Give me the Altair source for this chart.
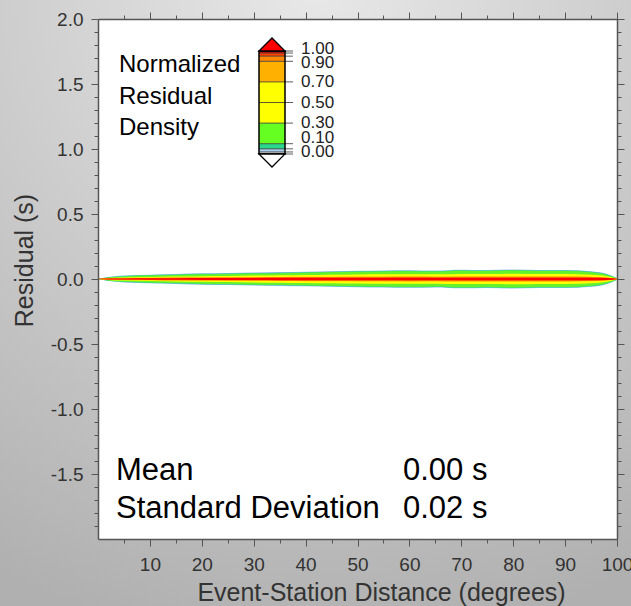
import altair as alt
import pandas as pd

# ---------------- data ----------------
DIST = [0, 2, 5, 10, 15, 20, 25, 30, 35, 40, 45, 50, 55, 60, 65, 70, 75, 80, 85, 90, 95, 98, 100]
# half-widths (s) of each density contour band around the zero residual line
OUTER = [0.000, 0.015, 0.026, 0.033, 0.038, 0.044, 0.047, 0.050, 0.053, 0.056, 0.060, 0.063, 0.066, 0.068, 0.066, 0.072, 0.069, 0.074, 0.070, 0.070, 0.060, 0.040, 0.006]
TEAL = [0.000, 0.013, 0.023, 0.030, 0.035, 0.040, 0.043, 0.046, 0.049, 0.052, 0.056, 0.059, 0.062, 0.064, 0.062, 0.068, 0.065, 0.070, 0.066, 0.066, 0.056, 0.036, 0.005]
GREEN = [0.000, 0.011, 0.020, 0.027, 0.031, 0.036, 0.039, 0.042, 0.045, 0.048, 0.052, 0.055, 0.058, 0.060, 0.058, 0.064, 0.061, 0.066, 0.062, 0.062, 0.052, 0.033, 0.004]
YELLOW = [0.000, 0.007, 0.012, 0.016, 0.019, 0.022, 0.024, 0.026, 0.028, 0.030, 0.032, 0.034, 0.036, 0.037, 0.036, 0.039, 0.038, 0.040, 0.038, 0.038, 0.032, 0.021, 0.003]
ORANGE = [0.000, 0.004, 0.007, 0.009, 0.011, 0.013, 0.014, 0.015, 0.016, 0.017, 0.018, 0.019, 0.020, 0.021, 0.020, 0.022, 0.021, 0.022, 0.021, 0.021, 0.018, 0.012, 0.002]
DARK_ORANGE = [0.000, 0.003, 0.005, 0.007, 0.009, 0.010, 0.011, 0.012, 0.012, 0.013, 0.013, 0.014, 0.014, 0.015, 0.014, 0.015, 0.015, 0.015, 0.015, 0.015, 0.013, 0.009, 0.002]
RED = [0.002, 0.003, 0.004, 0.005, 0.006, 0.007, 0.008, 0.008, 0.009, 0.009, 0.009, 0.010, 0.010, 0.010, 0.010, 0.010, 0.010, 0.010, 0.010, 0.010, 0.009, 0.007, 0.002]
BAND_COLORS = ["#8fbfe6", "#2fd58f", "#66f22a", "#ffff00", "#ffb000", "#ff7a00", "#ff0000"]

CB_EDGES = [0.0, 0.02, 0.05, 0.1, 0.3, 0.7, 0.9, 0.95, 0.98, 1.0]
CB_COLORS = ["#e2e2e2", "#a8cdee", "#2ad88c", "#66ff22", "#ffff00", "#ffb000", "#ff8800", "#ff4400", "#ff0000"]
CB_TICKS = [0.0, 0.02, 0.05, 0.1, 0.3, 0.5, 0.7, 0.9, 0.95, 0.98, 1.0]
CB_LABELS = ["1.00", "0.90", "0.70", "0.50", "0.30", "0.10", "0.00"]
CB_LABEL_POS = [1.015, 0.885, 0.70, 0.50, 0.30, 0.16, 0.015]

LEGEND_TITLE = ["Normalized", "Residual", "Density"]
STAT_NAMES = ["Mean", "Standard Deviation"]
STAT_VALUES = ["0.00 s", "0.02 s"]

X_TICKS = list(range(5, 101, 5))
Y_TICKS = [round(i / 10, 1) for i in range(-19, 21)]

X_TITLE = "Event-Station Distance (degrees)"
Y_TITLE = "Residual (s)"

# ---------------- chart ----------------
W, H = 519, 520
FONT = "Liberation Sans"

xs = alt.Scale(domain=[0, 100], nice=False, zero=False)
ys = alt.Scale(domain=[-2, 2], nice=False, zero=False)

common = dict(
    domainColor="#555555", domainWidth=1.5, tickColor="#555555", tickWidth=1,
    labelColor="#333333", labelFont=FONT, labelFontSize=19,
    titleFont=FONT, titleFontSize=25, titleColor="#333333", titleFontWeight="normal",
    grid=False, zindex=1, labelOverlap=False, labelFlush=False, labelBound=False,
)
x_major = "datum.value % 10 === 0"
y_major = "abs(datum.value * 2 - round(datum.value * 2)) < 0.001"
x_tick_size = {"condition": {"test": x_major, "value": 7}, "value": 4}
y_tick_size = {"condition": {"test": y_major, "value": 7}, "value": 4}

x_bottom = alt.Axis(orient="bottom", values=X_TICKS, tickSize=x_tick_size, format="d",
                    labelExpr=f"{x_major} ? datum.label : ''", labelPadding=9,
                    titleX=283, titleY=61, titleBaseline="alphabetic", titleAlign="center", **common)
y_left = alt.Axis(orient="left", values=Y_TICKS, tickSize=y_tick_size, format=".1f",
                  labelExpr=f"{y_major} ? replace(datum.label, '\u2212', '-') : ''", labelPadding=8,
                  titleAngle=270, titleX=-66, titleY=241, titleBaseline="alphabetic", titleAlign="center", **common)
x_top = alt.Axis(orient="top", values=X_TICKS, tickSize=x_tick_size, labels=False, **common)
y_right = alt.Axis(orient="right", values=Y_TICKS, tickSize=y_tick_size, labels=False, **common)

one = pd.DataFrame({"a": [0]})

bg = alt.Chart(one).mark_rect(
    fill={"gradient": "radial", "x1": 0.5, "y1": 0.0, "r1": 0.0, "x2": 0.5, "y2": 0.0, "r2": 1.05,
          "stops": [{"offset": 0, "color": "#e8e8e8"}, {"offset": 1, "color": "#b0b0b0"}]}
).encode(x=alt.value(-98), x2=alt.value(W + 14), y=alt.value(-19), y2=alt.value(H + 67))

plot_bg = alt.Chart(one).mark_rect(fill="white").encode(
    x=alt.value(0), x2=alt.value(W), y=alt.value(0), y2=alt.value(H))

levels = [OUTER, TEAL, GREEN, YELLOW, ORANGE, DARK_ORANGE, RED]
band_layers = []
for i, (w, c) in enumerate(zip(levels, BAND_COLORS)):
    df = pd.DataFrame({"dist": DIST, "w": w})
    if i == 0:
        xa, ya, xt, yt = x_bottom, y_left, X_TITLE, Y_TITLE
    elif i == 1:
        xa, ya, xt, yt = x_top, y_right, None, None
    else:
        xa, ya, xt, yt = None, None, None, None
    layer = alt.Chart(df).transform_calculate(
        lo="-datum.w", hi="datum.w"
    ).mark_area(color=c, orient="vertical", interpolate="monotone").encode(
        x=alt.X("dist:Q", scale=xs, axis=xa, title=xt),
        y=alt.Y("lo:Q", scale=ys, axis=ya, title=yt),
        y2="hi:Q",
    )
    band_layers.append(layer)

# colour bar legend
cb_y = alt.Scale(domain=[0, 1], range=[135, 32], nice=False, zero=False)
cb_df = pd.DataFrame({"lo": CB_EDGES[:-1], "hi": CB_EDGES[1:], "color": CB_COLORS})
cb_rect = alt.Chart(cb_df).mark_rect().encode(
    x=alt.value(161), x2=alt.value(187),
    y=alt.Y("lo:Q", scale=cb_y, axis=None), y2="hi:Q",
    color=alt.Color("color:N", scale=None),
)
cb_lines = alt.Chart(pd.DataFrame({"lvl": CB_TICKS})).mark_rule(color="#333333", strokeWidth=0.8).encode(
    x=alt.value(161), x2=alt.value(195), y=alt.Y("lvl:Q", scale=cb_y, axis=None))
cb_box = alt.Chart(pd.DataFrame({"lo": [CB_EDGES[0]], "hi": [CB_EDGES[-1]]})).mark_rect(
    filled=False, stroke="black", strokeWidth=1.5).encode(
    x=alt.value(161), x2=alt.value(187), y=alt.Y("lo:Q", scale=cb_y, axis=None), y2="hi:Q")
tri_df = pd.DataFrame({
    "lvl": [CB_EDGES[-1], CB_EDGES[0]],
    "fill": [CB_COLORS[-1], "#ffffff"],
    "shape": ["M -1 0 L 0 -1 L 1 0 Z", "M -1 0 L 0 1 L 1 0 Z"],
})
cb_tri = alt.Chart(tri_df).mark_point(filled=True, stroke="black", strokeWidth=1.3, size=676, opacity=1).encode(
    x=alt.value(174), y=alt.Y("lvl:Q", scale=cb_y, axis=None),
    shape=alt.Shape("shape:N", scale=None), fill=alt.Fill("fill:N", scale=None))
cb_text = alt.Chart(pd.DataFrame({"label": CB_LABELS, "pos": CB_LABEL_POS})).mark_text(
    align="left", baseline="middle", fontSize=17, font=FONT, color="#222222").encode(
    x=alt.value(203), y=alt.Y("pos:Q", scale=cb_y, axis=None), text="label:N")

legend_title = alt.Chart(pd.DataFrame({"t": ["\n".join(LEGEND_TITLE)]})).mark_text(
    align="left", baseline="alphabetic", fontSize=24, font=FONT, color="black",
    lineBreak="\n", lineHeight=31.7).encode(x=alt.value(21), y=alt.value(53), text="t:N")

stat_names = alt.Chart(pd.DataFrame({"t": ["\n".join(STAT_NAMES)]})).mark_text(
    align="left", baseline="alphabetic", fontSize=31, font=FONT, color="black",
    lineBreak="\n", lineHeight=38).encode(x=alt.value(18), y=alt.value(461), text="t:N")
stat_vals = alt.Chart(pd.DataFrame({"t": ["\n".join(STAT_VALUES)]})).mark_text(
    align="left", baseline="alphabetic", fontSize=31, font=FONT, color="black",
    lineBreak="\n", lineHeight=38).encode(x=alt.value(305), y=alt.value(461), text="t:N")

chart = alt.layer(
    bg, plot_bg, *band_layers, cb_rect, cb_lines, cb_box, cb_tri, cb_text,
    legend_title, stat_names, stat_vals,
).resolve_scale(y="independent").resolve_axis(x="independent", y="independent").properties(
    width=W, height=H,
    autosize=alt.AutoSizeParams(type="none"),
    padding={"left": 98, "top": 19, "right": 14, "bottom": 67},
    background="#cccccc",
).configure_view(stroke=None)

chart.save("out.html", embed_options={"renderer": "svg", "actions": False})
